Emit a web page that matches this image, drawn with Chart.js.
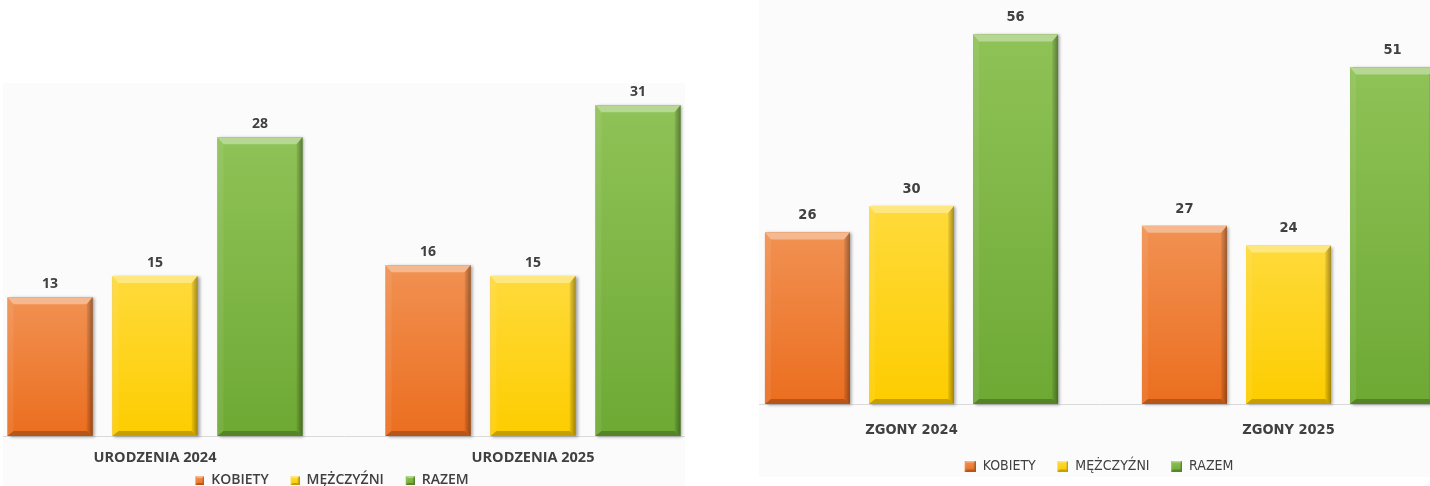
<!DOCTYPE html>
<html lang="pl">
<head>
<meta charset="utf-8">
<script src="https://cdn.jsdelivr.net/npm/chart.js@4.4.1/dist/chart.umd.min.js"></script>
<style>
  html, body { margin: 0; padding: 0; background: #fff; }
  body { width: 1430px; height: 486px; position: relative; overflow: hidden; }
  .panel { position: absolute; overflow: hidden; background: #fbfbfb; }
  #birthsPanel { left: 3px; top: 83px; width: 682px; height: 403px; }
  #deathsPanel { left: 759px; top: 0; width: 671px; height: 477px; }
  canvas { position: absolute; }
  #birthsChart { left: -79px; top: -83px; }
  #deathsChart { left: -45px; top: 0; }
</style>
</head>
<body>
<div class="panel" id="birthsPanel"><canvas id="birthsChart" width="801" height="500"></canvas></div>
<div class="panel" id="deathsPanel"><canvas id="deathsChart" width="766" height="490"></canvas></div>
<script>
// chart data
const birthCategories = ['URODZENIA 2024', 'URODZENIA 2025'];
const deathCategories = ['ZGONY 2024', 'ZGONY 2025'];
const seriesNames = ['KOBIETY', 'MĘŻCZYŹNI', 'RAZEM'];

const birthsWomen = [13, 16];
const birthsMen = [15, 15];
const birthsTotal = [28, 31];

const deathsWomen = [26, 27];
const deathsMen = [30, 24];
const deathsTotal = [56, 51];

// colours per series: flat, gradient top, gradient bottom
const seriesColors = [
    { flat: '#ED7D31', top: '#F19152', bottom: '#EB6E1F' },
    { flat: '#FFC000', top: '#FFDA3A', bottom: '#FDCD00' },
    { flat: '#70AD47', top: '#8FC257', bottom: '#6EA934' }
];

const textColor = '#404040';

// bevelled box, shared by bars and legend markers
function drawBevel(ctx, l, t, r, b, col, dt, ds, db, shadow) {
    ctx.save();
    const g = ctx.createLinearGradient(0, t, 0, b);
    g.addColorStop(0, col.top);
    g.addColorStop(1, col.bottom);
    if (shadow) {
        ctx.shadowColor = 'rgba(0,0,0,0.35)';
        ctx.shadowBlur = 3;
        ctx.shadowOffsetX = 2;
        ctx.shadowOffsetY = 1;
    }
    ctx.fillStyle = g;
    ctx.fillRect(l, t, r - l, b - t);
    ctx.restore();

    const poly = (pts, fill) => {
        ctx.beginPath();
        ctx.moveTo(pts[0][0], pts[0][1]);
        for (let i = 1; i < pts.length; i++) ctx.lineTo(pts[i][0], pts[i][1]);
        ctx.closePath();
        ctx.fillStyle = fill;
        ctx.fill();
    };
    ctx.save();
    poly([[l, t], [r, t], [r - ds, t + dt], [l + ds, t + dt]], 'rgba(255,255,255,0.36)');
    poly([[l, t], [l + ds, t + dt], [l + ds, b - db], [l, b]], 'rgba(255,255,255,0.07)');
    const rg = ctx.createLinearGradient(r - ds, 0, r, 0);
    rg.addColorStop(0, 'rgba(0,0,0,0.06)');
    rg.addColorStop(1, 'rgba(0,0,0,0.36)');
    poly([[r, t], [r, b], [r - ds, b - db], [r - ds, t + dt]], rg);
    poly([[l, b], [l + ds, b - db], [r - ds, b - db], [r, b]], 'rgba(0,0,0,0.22)');
    ctx.restore();
}

// legend marker images: transparent lead-in on the left gives the gap between items
function makeMarker(col, size, lead) {
    const c = document.createElement('canvas');
    c.width = size + lead;
    c.height = size;
    drawBevel(c.getContext('2d'), lead, 0, lead + size, size, col, 2, 2, 2, false);
    return c;
}

const bevelBars = {
    id: 'bevelBars',
    afterDatasetsDraw(chart) {
        const ctx = chart.ctx;
        chart.data.datasets.forEach((ds, di) => {
            chart.getDatasetMeta(di).data.forEach(bar => {
                const p = bar.getProps(['x', 'y', 'base', 'width'], true);
                drawBevel(ctx, p.x - p.width / 2, p.y, p.x + p.width / 2, p.base,
                    seriesColors[di], 7, 6, 5, true);
            });
        });
    }
};

// value labels above the bars
const valueLabels = {
    id: 'valueLabels',
    afterDatasetsDraw(chart, args, opts) {
        const ctx = chart.ctx;
        ctx.save();
        ctx.font = opts.font;
        ctx.fillStyle = textColor;
        ctx.textAlign = 'center';
        ctx.textBaseline = 'middle';
        chart.data.datasets.forEach((ds, di) => {
            chart.getDatasetMeta(di).data.forEach((bar, i) => {
                ctx.fillText(ds.data[i], bar.x, bar.y - opts.offset);
            });
        });
        ctx.restore();
    }
};

function makeChart(canvasId, categories, women, men, total, cfg) {
    const values = [women, men, total];
    const markers = seriesColors.map(c => makeMarker(c, cfg.box, cfg.markerLead));
    new Chart(document.getElementById(canvasId).getContext('2d'), {
        type: 'bar',
        data: {
            labels: categories,
            datasets: seriesNames.map((name, i) => ({
                label: name,
                data: values[i],
                backgroundColor: seriesColors[i].flat,
                borderWidth: 0,
                barPercentage: cfg.barPct,
                categoryPercentage: cfg.catPct
            }))
        },
        options: {
            responsive: false,
            animation: false,
            layout: { padding: cfg.padding },
            scales: {
                x: {
                    grid: { display: false, drawTicks: false },
                    border: { display: true, color: '#d9d9d9', width: 1 },
                    ticks: { color: textColor, font: cfg.tickFont, padding: cfg.tickPad },
                    afterFit(scale) { scale.height = cfg.axisHeight; }
                },
                y: {
                    min: 0,
                    max: cfg.yMax,
                    grid: { display: false, drawTicks: false },
                    border: { display: false },
                    ticks: { display: false },
                    afterFit(scale) { scale.width = cfg.yAxisWidth; }
                }
            },
            plugins: {
                legend: {
                    position: 'bottom',
                    labels: {
                        color: textColor,
                        font: cfg.legendFont,
                        usePointStyle: true,
                        pointStyleWidth: cfg.box + cfg.markerLead,
                        boxHeight: cfg.box,
                        padding: cfg.legendPad,
                        generateLabels(chart) {
                            const items = Chart.defaults.plugins.legend.labels.generateLabels(chart);
                            items.forEach((it, i) => { it.pointStyle = markers[i]; });
                            return items;
                        }
                    }
                },
                tooltip: { enabled: false },
                valueLabels: { font: cfg.valueFont, offset: cfg.valueOffset }
            }
        },
        plugins: [bevelBars, valueLabels]
    });
}

makeChart('birthsChart', birthCategories, birthsWomen, birthsMen, birthsTotal, {
    barPct: 0.81,
    catPct: 0.833,
    yMax: 35,
    padding: { left: 3, right: 3, top: 62.7, bottom: 2.5 },
    tickFont: { family: 'Open Sans', size: 14.5, weight: 'bold' },
    tickPad: 13.3,
    axisHeight: 30.7,
    legendFont: { family: 'Open Sans', size: 14, weight: '600' },
    legendPad: 6.8,
    box: 9,
    markerLead: 15,
    valueFont: 'bold 14px "Open Sans"',
    valueOffset: 13,
    yAxisWidth: 39
});

makeChart('deathsChart', deathCategories, deathsWomen, deathsMen, deathsTotal, {
    barPct: 0.817,
    catPct: 0.828,
    yMax: 60,
    padding: { left: 3, right: 3, top: 8, bottom: 7 },
    tickFont: { family: '"DejaVu Sans Condensed", sans-serif', size: 14.5, weight: 'bold' },
    tickPad: 17.3,
    axisHeight: 37.5,
    legendFont: { family: '"DejaVu Sans Condensed", sans-serif', size: 14 },
    legendPad: 17.5,
    box: 11,
    markerLead: 4,
    valueFont: 'bold 14.5px "DejaVu Sans Condensed", sans-serif',
    valueOffset: 17,
    yAxisWidth: 6
});
</script>
</body>
</html>
